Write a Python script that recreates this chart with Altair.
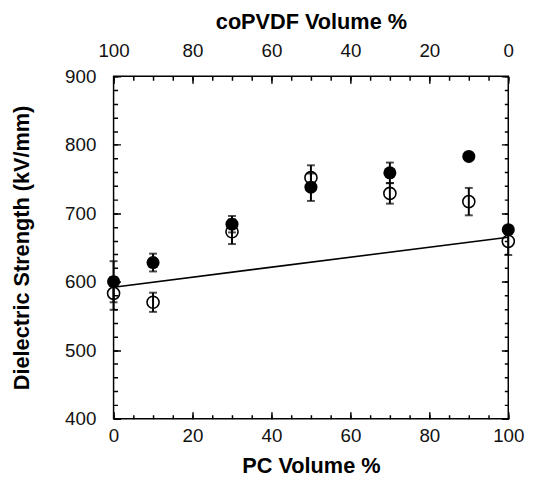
import altair as alt
import pandas as pd

# ---- data ----
pc = [0, 10, 30, 50, 70, 90, 100]
filled_v = [600, 628, 684, 738, 759, 783, 676]
filled_e = [30, 13, 12, 20, 15, 5, 5]
open_v = [583, 570, 673, 752, 729, 717, 659]
open_e = [24, 14, 18, 18, 15, 20, 20]
fit_x = [0, 100]
fit_y = [592, 665]

x_major = [0, 20, 40, 60, 80, 100]
x_minor = list(range(0, 101, 5))
y_major = [400, 500, 600, 700, 800, 900]
y_minor = list(range(400, 901, 20))

FONT = "Liberation Sans"
W, H = 400, 347
MAJ, MIN = 7, 4

rows = []
for s, vals, errs in (("filled", filled_v, filled_e), ("open", open_v, open_e)):
    for x, v, e in zip(pc, vals, errs):
        rows.append({"pc": x, "v": v, "lo": v - e, "hi": v + e, "series": s})
df = pd.DataFrame(rows)
caps = pd.concat([
    df[["pc", "lo"]].rename(columns={"lo": "v"}),
    df[["pc", "hi"]].rename(columns={"hi": "v"}),
])
fit = pd.DataFrame({"pc": fit_x, "v": fit_y})

xs = alt.Scale(domain=[0, 100], nice=False, zero=False)
ys = alt.Scale(domain=[400, 900], nice=False, zero=False)

common = dict(domain=False, ticks=False, grid=True, gridColor="black", gridOpacity=1,
              gridWidth=1.5, labelFlush=False, labelOverlap=False,
              labelFont=FONT, labelFontSize=19, labelColor="#111",
              titleFont=FONT, titleFontSize=22, titleFontWeight="bold", titleColor="black")

# inward tick marks drawn as dashed grid lines that only show near the frame
ax_bottom = alt.Axis(orient="bottom", values=x_major, gridDash=[MAJ, H - 2 * MAJ],
                     labelPadding=8, title="PC Volume %", titlePadding=11, **common)
ax_top = alt.Axis(orient="top", values=x_minor, gridDash=[MIN, H - 2 * MIN],
                  labelPadding=16, labelExpr="datum.value % 20 == 0 ? 100 - datum.value : ''",
                  title="coPVDF Volume %", titlePadding=8, **common)
ax_left = alt.Axis(orient="left", values=y_major, gridDash=[MAJ, W - 2 * MAJ],
                   labelPadding=18, title="Dielectric Strength (kV/mm)", titlePadding=32, **common)
ax_right = alt.Axis(orient="right", values=y_minor, gridDash=[MIN, W - 2 * MIN],
                    labels=False, title=None, **common)

line = alt.Chart(fit).mark_line(color="black", strokeWidth=1.6).encode(
    x=alt.X("pc:Q", scale=xs, axis=ax_bottom),
    y=alt.Y("v:Q", scale=ys, axis=ax_left),
)
rules = alt.Chart(df).mark_rule(color="black", strokeWidth=2).encode(
    x=alt.X("pc:Q", scale=xs, axis=ax_top),
    y=alt.Y("lo:Q", scale=ys, axis=ax_right),
    y2="hi:Q",
)
capm = alt.Chart(caps).mark_tick(color="black", orient="horizontal", size=8, thickness=2).encode(
    x=alt.X("pc:Q", scale=xs, axis=None),
    y=alt.Y("v:Q", scale=ys, axis=None),
)
filled = alt.Chart(df).transform_filter("datum.series == 'filled'").mark_point(
    shape="circle", filled=True, color="black", size=175, opacity=1).encode(
    x=alt.X("pc:Q", scale=xs, axis=None),
    y=alt.Y("v:Q", scale=ys, axis=None),
)
opn = alt.Chart(df).transform_filter("datum.series == 'open'").mark_point(
    shape="circle", filled=False, color="black", size=150, strokeWidth=1.6, opacity=1).encode(
    x=alt.X("pc:Q", scale=xs, axis=None),
    y=alt.Y("v:Q", scale=ys, axis=None),
)

chart = alt.layer(line, rules, capm, filled, opn).resolve_axis(
    x="independent", y="independent"
).properties(width=W, height=H, background="white",
             padding={"left": 2, "top": 0, "right": 5, "bottom": 5}
).configure_view(stroke="black", strokeWidth=1.5)

chart.save("out.html", embed_options={"renderer": "svg", "actions": False})
